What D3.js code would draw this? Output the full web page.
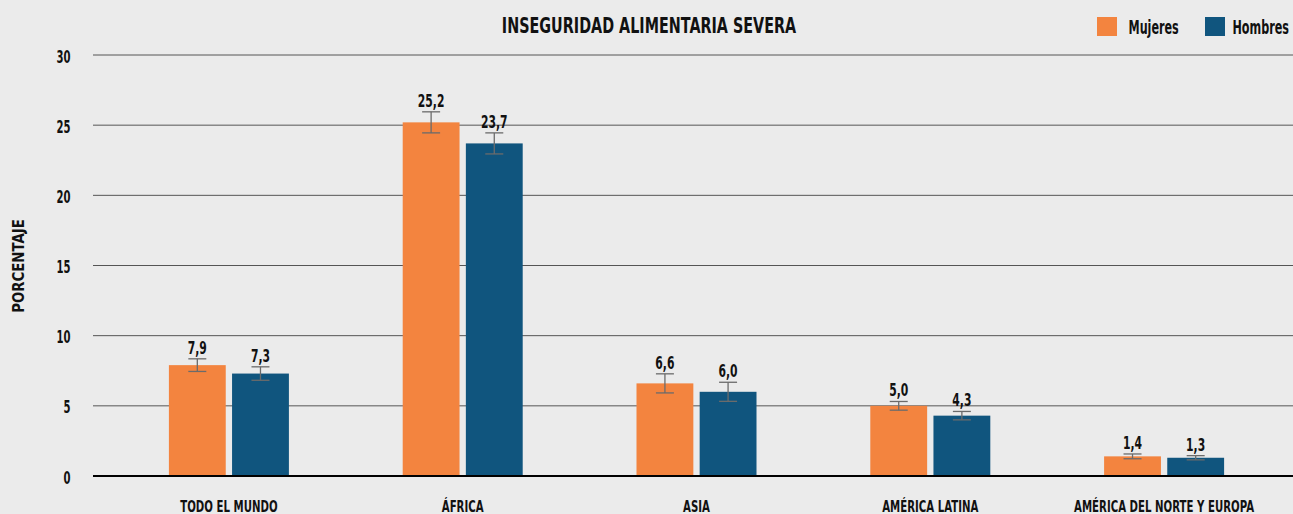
<!DOCTYPE html>
<html>
<head>
<meta charset="utf-8">
<script src="https://cdn.jsdelivr.net/npm/d3@7"></script>
<style>
    body { margin: 0; background: #ebebeb; }
    svg text { font-family: "DejaVu Sans", sans-serif; font-weight: bold; fill: #111; }
    .grid line { stroke: #555; stroke-width: 1; }
</style>
</head>
<body>
<div id="chart"></div>
<script>
const categories = ["TODO EL MUNDO", "ÁFRICA", "ASIA", "AMÉRICA LATINA", "AMÉRICA DEL NORTE Y EUROPA"];
const series = ["Mujeres", "Hombres"];
const mujeres = [7.9, 25.2, 6.6, 5.0, 1.4];
const hombres = [7.3, 23.7, 6.0, 4.3, 1.3];
const errMujeres = [0.45, 0.75, 0.68, 0.31, 0.17];
const errHombres = [0.48, 0.75, 0.68, 0.30, 0.15];
const yTicks = [0, 5, 10, 15, 20, 25, 30];
const colors = ["#f3843f", "#10557e"];

(function () {
    const width = 1293, height = 514;
    const svg = d3.select("#chart").append("svg")
        .attr("width", width)
        .attr("height", height);

    // the reference uses a condensed face; squeeze DejaVu horizontally
    function squeeze(sel, fx, fy, sx) {
        return sel.attr("transform", function (d, i) {
            return "translate(" + fx(d, i) + "," + fy(d, i) + ") scale(" + sx + ",1)";
        });
    }

    const y = d3.scaleLinear().domain([0, 30]).range([476, 55]);
    const x0 = d3.scaleBand().domain(categories).range([112, 1281]);
    const x1 = d3.scaleBand().domain(series).range([x0.bandwidth() / 2 - 60, x0.bandwidth() / 2 + 60]).paddingInner(0.1);

    // grid
    const grid = svg.append("g").attr("class", "grid");
    grid.selectAll("line").data(yTicks.filter(d => d > 0)).enter()
        .append("line")
        .attr("x1", 93).attr("x2", width)
        .attr("y1", d => y(d)).attr("y2", d => y(d));

    squeeze(svg.append("g").selectAll("text").data(yTicks).enter()
        .append("text")
        .attr("font-size", 18)
        .attr("text-anchor", "end")
        .text(d => d), () => 70.5, d => y(d) + 7.5, 0.56);

    const data = categories.map((c, i) => ({
        cat: c,
        bars: [
            {s: series[0], v: mujeres[i], e: errMujeres[i], c: colors[0]},
            {s: series[1], v: hombres[i], e: errHombres[i], c: colors[1]}
        ]
    }));

    const groups = svg.append("g").selectAll("g").data(data).enter()
        .append("g")
        .attr("transform", d => "translate(" + x0(d.cat) + ",0)");

    groups.selectAll("rect").data(d => d.bars).enter()
        .append("rect")
        .attr("x", d => x1(d.s))
        .attr("width", x1.bandwidth())
        .attr("y", d => y(d.v))
        .attr("height", d => y(0) - y(d.v))
        .attr("fill", d => d.c);

    const cx = d => x1(d.s) + x1.bandwidth() / 2;
    const err = groups.selectAll("g.err").data(d => d.bars).enter()
        .append("g").attr("class", "err")
        .attr("stroke", "#6b6b6b").attr("stroke-width", 1.3);
    err.append("line")
        .attr("x1", cx).attr("x2", cx)
        .attr("y1", d => y(d.v + d.e)).attr("y2", d => y(d.v - d.e));
    err.append("line")
        .attr("x1", d => cx(d) - 9).attr("x2", d => cx(d) + 9)
        .attr("y1", d => y(d.v + d.e)).attr("y2", d => y(d.v + d.e));
    err.append("line")
        .attr("x1", d => cx(d) - 9).attr("x2", d => cx(d) + 9)
        .attr("y1", d => y(d.v - d.e)).attr("y2", d => y(d.v - d.e));

    squeeze(groups.selectAll("text.val").data(d => d.bars).enter()
        .append("text")
        .attr("class", "val")
        .attr("font-size", 18)
        .attr("text-anchor", "middle")
        .text(d => d3.format(".1f")(d.v).replace(".", ",")),
        cx, d => y(d.v + d.e) - 5, 0.6);

    // zero line
    svg.append("line")
        .attr("x1", 93).attr("x2", width)
        .attr("y1", y(0)).attr("y2", y(0))
        .attr("stroke", "#000").attr("stroke-width", 2.2);

    squeeze(svg.append("g").selectAll("text").data(categories).enter()
        .append("text")
        .attr("font-size", 15)
        .attr("text-anchor", "middle")
        .text(d => d), d => x0(d) + x0.bandwidth() / 2, () => 511.5, 0.68);

    svg.append("text")
        .attr("transform", "translate(649,33.3) scale(0.70,1)")
        .attr("text-anchor", "middle")
        .attr("font-size", 20.5)
        .text("INSEGURIDAD ALIMENTARIA SEVERA");

    svg.append("text")
        .attr("transform", "translate(23.5,266) rotate(-90) scale(0.83,1)")
        .attr("text-anchor", "middle")
        .attr("font-size", 16)
        .text("PORCENTAJE");

    // legend
    const legendX = [1097, 1205];
    const legendTextDx = [31.5, 27.5];
    const legend = svg.append("g").selectAll("g").data(series).enter()
        .append("g")
        .attr("transform", (d, i) => "translate(" + legendX[i] + ",17)");
    legend.append("rect").attr("width", 20).attr("height", 19).attr("fill", (d, i) => colors[i]);
    squeeze(legend.append("text").attr("font-size", 20).text(d => d), (d, i) => legendTextDx[i], () => 17.3, 0.56);
})();
</script>
</body>
</html>
